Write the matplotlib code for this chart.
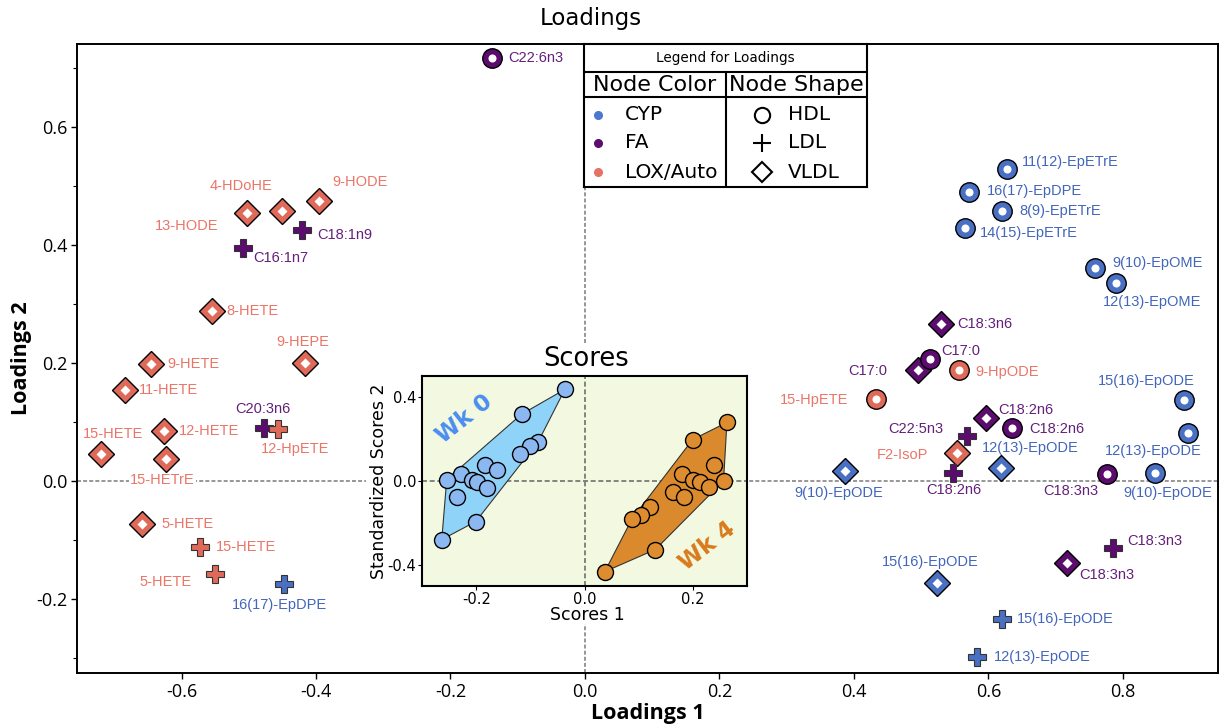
import matplotlib
matplotlib.use('Agg')
import matplotlib.pyplot as plt
from matplotlib.ticker import MultipleLocator, FormatStrFormatter
from matplotlib.patches import Polygon
import numpy as np

plt.rcParams['axes.unicode_minus'] = False

# ---------------- Loadings data ----------------
names = ["13-HODE", "4-HDoHE", "9-HODE", "C18:1n9", "C16:1n7", "8-HETE", "9-HETE",
         "11-HETE", "12-HETE", "15-HETE", "15-HETrE", "9-HEPE", "C20:3n6", "12-HpETE",
         "5-HETE", "15-HETE", "5-HETE", "16(17)-EpDPE", "C22:6n3",
         "11(12)-EpETrE", "16(17)-EpDPE", "8(9)-EpETrE", "14(15)-EpETrE", "9(10)-EpOME",
         "12(13)-EpOME", "C18:3n6", "C17:0", "C17:0", "9-HpODE", "15-HpETE", "C18:2n6",
         "C18:2n6", "C22:5n3", "F2-IsoP", "C18:2n6", "12(13)-EpODE", "9(10)-EpODE",
         "C18:3n3", "9(10)-EpODE", "15(16)-EpODE", "12(13)-EpODE", "C18:3n3", "C18:3n3",
         "15(16)-EpODE", "15(16)-EpODE", "12(13)-EpODE"]
node_color = ["LOX/Auto", "LOX/Auto", "LOX/Auto", "FA", "FA", "LOX/Auto", "LOX/Auto",
              "LOX/Auto", "LOX/Auto", "LOX/Auto", "LOX/Auto", "LOX/Auto", "FA", "LOX/Auto",
              "LOX/Auto", "LOX/Auto", "LOX/Auto", "CYP", "FA",
              "CYP", "CYP", "CYP", "CYP", "CYP",
              "CYP", "FA", "FA", "FA", "LOX/Auto", "LOX/Auto", "FA",
              "FA", "FA", "LOX/Auto", "FA", "CYP", "CYP",
              "FA", "CYP", "CYP", "CYP", "FA", "FA",
              "CYP", "CYP", "CYP"]
node_shape = ["VLDL", "VLDL", "VLDL", "LDL", "LDL", "VLDL", "VLDL",
              "VLDL", "VLDL", "VLDL", "VLDL", "VLDL", "LDL", "LDL",
              "VLDL", "LDL", "LDL", "LDL", "HDL",
              "HDL", "HDL", "HDL", "HDL", "HDL",
              "HDL", "VLDL", "VLDL", "HDL", "HDL", "HDL", "VLDL",
              "HDL", "LDL", "VLDL", "LDL", "VLDL", "VLDL",
              "HDL", "HDL", "HDL", "HDL", "LDL", "VLDL",
              "VLDL", "LDL", "LDL"]
loadings1 = [-0.503, -0.450, -0.395, -0.421, -0.509, -0.555, -0.646,
             -0.684, -0.626, -0.719, -0.623, -0.416, -0.478, -0.456,
             -0.658, -0.5725, -0.550, -0.447, -0.138,
             0.627, 0.5715, 0.6196, 0.565, 0.758,
             0.789, 0.529, 0.4957, 0.513, 0.5566, 0.4327, 0.597,
             0.635, 0.5685, 0.5536, 0.5467, 0.618, 0.3866,
             0.7757, 0.8476, 0.8907, 0.896, 0.7856, 0.717,
             0.524, 0.6205, 0.5824]
loadings2 = [0.455, 0.457, 0.475, 0.425, 0.395, 0.289, 0.198,
             0.155, 0.085, 0.045, 0.038, 0.1995, 0.090, 0.0876,
             -0.073, -0.111, -0.158, -0.1746, 0.717,
             0.529, 0.490, 0.4576, 0.428, 0.3605,
             0.335, 0.266, 0.188, 0.206, 0.188, 0.1384, 0.106,
             0.0904, 0.0768, 0.047, 0.013, 0.0226, 0.0175,
             0.0119, 0.013, 0.137, 0.082, -0.113, -0.1385,
             -0.1734, -0.2345, -0.2978]

# label placement (layout only): offset in pixels from the marker, alignment
label_dx = [-60, -41, 41, 15, 10.3, 15, 17.3, 14, 15, 11.4, -3.5, -2, -0.8, 16.4,
            19, 15.7, -49.7, -5.3, 16,
            15, 17.4, 17.6, 15, 17.7, 36.3, 16.7, -50.3, 11.7, 15.7, -61.5, 11.6,
            17, -51.8, -55.3, 1, 29.3, -6, -35.9, 12.8, -38.2, -34.4, 14, 12,
            -6.8, 15, 17.3]
label_dy = [-13.7, 25.7, 19, -5, -10.3, -0.7, 0, -0.7, 0, 20.3, -21.7, 21.3, 19.4, -19.7,
            0, 0, -7.7, -21, 0,
            7.3, 0.7, 0, -5, 5.6, -19, 0, -1, 8.6, -1.7, -0.7, 8.3,
            -1.6, 6.4, -1.7, -16.7, 20, -22.6, -16.7, -20, 19.3, -18.3, 7, -12.3,
            21.6, 0, 0]
label_ha = ["c", "c", "c", "l", "l", "l", "l", "l", "l", "c", "c", "c", "c", "c",
            "l", "l", "c", "c", "l",
            "l", "l", "l", "l", "l", "c", "l", "c", "l", "l", "c", "l",
            "l", "c", "c", "c", "c", "c", "c", "c", "c", "c", "l", "l",
            "c", "l", "l"]

# ---------------- Scores data ----------------
wk0_scores1 = [-0.0363, -0.1163, -0.0855, -0.101, -0.120, -0.184, -0.1625, -0.229,
               -0.2548, -0.2086, -0.198, -0.181, -0.2363, -0.201, -0.264]
wk0_scores2 = [0.436, 0.318, 0.187, 0.1685, 0.126, 0.077, 0.0535, 0.0315,
               0.0063, 0.0031, -0.0047, -0.036, -0.0756, -0.194, -0.280]
wk4_scores1 = [0.2634, 0.200, 0.2388, 0.1803, 0.2006, 0.2142, 0.2572, 0.2295,
               0.1637, 0.1834, 0.1218, 0.1052, 0.088, 0.131, 0.0375]
wk4_scores2 = [0.2787, 0.197, 0.074, 0.0346, 0.0031, -0.0047, 0.0, -0.0315,
               -0.052, -0.0756, -0.1228, -0.162, -0.181, -0.3276, -0.433]

legend_colors = ["CYP", "FA", "LOX/Auto"]
legend_shapes = ["HDL", "LDL", "VLDL"]

# ---------------- styles ----------------
marker_col = {"CYP": "#4a70c4", "FA": "#5c0b6e", "LOX/Auto": "#e06a5a"}
text_col = {"CYP": "#4266bb", "FA": "#64207a", "LOX/Auto": "#ea7568"}
legend_dot = {"CYP": "#4c78d0", "FA": "#5b0e6e", "LOX/Auto": "#e57265"}

W, H = 1225, 728
fig = plt.figure(figsize=(W / 100, H / 100), dpi=100)


def fbox(l, t, r, b):
    return [l / W, 1 - b / H, (r - l) / W, (b - t) / H]


def hull(px, py):
    pts = sorted(set(zip(px, py)))

    def cross(o, a, b):
        return (a[0] - o[0]) * (b[1] - o[1]) - (a[1] - o[1]) * (b[0] - o[0])
    lower, upper = [], []
    for p in pts:
        while len(lower) >= 2 and cross(lower[-2], lower[-1], p) <= 0:
            lower.pop()
        lower.append(p)
    for p in reversed(pts):
        while len(upper) >= 2 and cross(upper[-2], upper[-1], p) <= 0:
            upper.pop()
        upper.append(p)
    return lower[:-1] + upper[:-1]


# ---------------- main loadings axes ----------------
ax = fig.add_axes(fbox(77, 44, 1218, 673))
ax.set_xlim(-0.7554, 0.9413)
ax.set_ylim(-0.3254, 0.7407)
dash = (0, (2.6, 1.4))
ax.axhline(0, color='#7a7a7a', lw=1.1, ls=dash, zorder=1)
ax.axvline(0, color='#7a7a7a', lw=1.1, ls=dash, zorder=1)

for i in range(len(names)):
    c = marker_col[node_color[i]]
    x, y = loadings1[i], loadings2[i]
    s = node_shape[i]
    if s == "HDL":
        ax.plot(x, y, 'o', ms=14, mfc=c, mec='black', mew=1.0, zorder=3)
        ax.plot(x, y, 'o', ms=5.8, mfc='white', mec='none', zorder=3)
    elif s == "VLDL":
        ax.plot(x, y, 'D', ms=13, mfc=c, mec='black', mew=1.0, zorder=3)
        ax.plot(x, y, 'D', ms=5, mfc='white', mec='none', zorder=3)
    else:
        ax.plot(x, y, 'P', ms=12.5, mfc=c, mec='#333333', mew=0.8, zorder=3)
    kw = {}
    if names[i] == "15-HETrE":
        kw['bbox'] = dict(fc='white', ec='none', pad=0.5)
    ax.annotate(names[i], (x, y), xytext=(label_dx[i] * 0.72, label_dy[i] * 0.72),
                textcoords='offset points',
                ha='center' if label_ha[i] == 'c' else 'left', va='center',
                fontsize=10.5, color=text_col[node_color[i]],
                family='Liberation Sans', zorder=4, **kw)

ax.set_xticks([-0.6, -0.4, -0.2, 0.0, 0.2, 0.4, 0.6, 0.8])
ax.set_yticks([-0.2, 0.0, 0.2, 0.4, 0.6])
ax.yaxis.set_minor_locator(MultipleLocator(0.1))
ax.xaxis.set_major_formatter(FormatStrFormatter('%.1f'))
ax.yaxis.set_major_formatter(FormatStrFormatter('%.1f'))
ax.tick_params(which='major', direction='out', length=4, width=1, labelsize=13, pad=3)
ax.tick_params(which='minor', direction='out', length=3, width=0.8)
for lab in ax.get_xticklabels() + ax.get_yticklabels():
    lab.set_family('Open Sans')
for sp in ax.spines.values():
    sp.set_linewidth(1.4)

fig.text(591 / W, 1 - 18 / H, "Loadings", fontsize=16.5, ha='center', va='center',
         family='DejaVu Sans')
fig.text(647.5 / W, 1 - 714 / H, "Loadings 1", fontsize=15.5, fontweight='bold',
         ha='center', va='center', family='Open Sans')
fig.text(22 / W, 1 - 358 / H, "Loadings 2", fontsize=15.5, fontweight='bold',
         ha='center', va='center', rotation=90, family='Open Sans')

# ---------------- legend table ----------------
lg = fig.add_axes(fbox(584, 44, 867, 187), zorder=10)
lg.set_xlim(0, 283)
lg.set_ylim(143, 0)
lg.set_xticks([])
lg.set_yticks([])
lg.set_facecolor('white')
for sp in lg.spines.values():
    sp.set_linewidth(1.5)
lg.plot([0, 283], [28, 28], color='black', lw=1.5)
lg.plot([0, 283], [53, 53], color='black', lw=1.5)
lg.plot([141.5, 141.5], [28, 143], color='black', lw=1.5)
lg.text(141.5, 14, "Legend for Loadings", fontsize=9.8, ha='center', va='center')
lg.text(70.5, 41, "Node Color", fontsize=16, ha='center', va='center')
lg.text(212.5, 41, "Node Shape", fontsize=16, ha='center', va='center')
rows_y = [71, 99, 128]
for yy, g in zip(rows_y, legend_colors):
    lg.plot(14, yy, 'o', ms=5.5, color=legend_dot[g])
    lg.text(41, yy, g, fontsize=14.5, ha='left', va='center')
shape_marker = {"HDL": ('o', 11), "LDL": ('+', 13.5), "VLDL": ('D', 10)}
for yy, s in zip(rows_y, legend_shapes):
    m, msz = shape_marker[s]
    lg.plot(178, yy, m, ms=msz, mfc='none', mec='black', mew=1.5)
    lg.text(204, yy, s, fontsize=14.5, ha='left', va='center')

# ---------------- inset scores ----------------
bg = fig.add_axes(fbox(366, 345, 748, 624), zorder=5)
bg.set_facecolor('white')
bg.set_xticks([])
bg.set_yticks([])
for sp in bg.spines.values():
    sp.set_visible(False)

ins = fig.add_axes(fbox(422.3, 376, 746.7, 585.7), zorder=6)
ins.set_facecolor('#f2f9e0')
ins.set_xlim(-0.3, 0.3)
ins.set_ylim(-0.5, 0.5)
ins.axhline(0, color='#707070', lw=1.2, ls=(0, (3, 1.6)), zorder=1)
ins.axvline(0, color='#707070', lw=1.2, ls=(0, (3, 1.6)), zorder=1)

ins.add_patch(Polygon(hull(wk0_scores1, wk0_scores2), closed=True, fc='#8fd3f8',
                      ec='#333333', lw=0.8, zorder=2))
ins.add_patch(Polygon(hull(wk4_scores1, wk4_scores2), closed=True, fc='#da8a2c',
                      ec='#333333', lw=0.8, zorder=2))
ins.plot(wk0_scores1, wk0_scores2, 'o', ms=11.5, mfc='#8cb8f2', mec='black', mew=1.0,
         ls='none', zorder=3)
ins.plot(wk4_scores1, wk4_scores2, 'o', ms=11.5, mfc='#dd8c30', mec='black', mew=1.0,
         ls='none', zorder=3)
ins.text(-0.2228, 0.2947, "Wk 0", rotation=38, color='#4a8ef0', fontsize=16.5,
         fontweight='bold', ha='center', va='center', rotation_mode='anchor', zorder=4)
ins.text(0.2265, -0.312, "Wk 4", rotation=38, color='#d97a1c', fontsize=16.5,
         fontweight='bold', ha='center', va='center', rotation_mode='anchor', zorder=4)

ins.set_xticks([-0.2, 0.0, 0.2])
ins.set_yticks([-0.4, 0.0, 0.4])
ins.xaxis.set_major_formatter(FormatStrFormatter('%.1f'))
ins.yaxis.set_major_formatter(FormatStrFormatter('%.1f'))
ins.tick_params(direction='out', length=3, width=0.8, labelsize=10.5, pad=1.5)
for sp in ins.spines.values():
    sp.set_linewidth(1.5)

fig.text(586 / W, 1 - 359 / H, "Scores", fontsize=18.5, ha='center', va='center',
         zorder=7)
fig.text(587 / W, 1 - 615 / H, "Scores 1", fontsize=12.5, ha='center', va='center',
         zorder=7)
fig.text(379 / W, 1 - 481 / H, "Standardized Scores 2", fontsize=12.5, ha='center',
         va='center', rotation=90, zorder=7)

fig.savefig("out.png", dpi=100)
